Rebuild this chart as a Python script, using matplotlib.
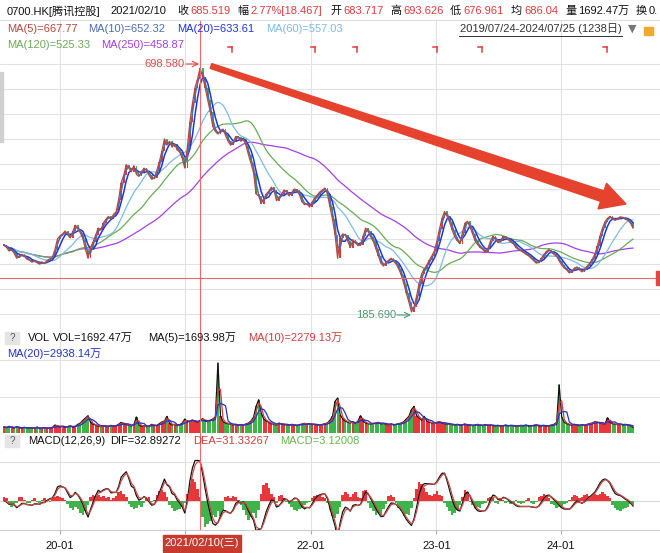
import numpy as np
import pandas as pd
import matplotlib
matplotlib.use('Agg')
import matplotlib.pyplot as plt
from matplotlib.patches import Polygon, Rectangle
from matplotlib.lines import Line2D

plt.rcParams['font.family'] = ['Liberation Sans', 'Noto Sans CJK SC', 'DejaVu Sans']

W, H = 660, 553

# ---------------- data (weekly blocks of 5 trading days, 2019/07/24 - 2024/07/25) ----------------
close = [
    327, 322, 315, 318, 310, 300, 305, 308, 304, 298,
    296, 292, 295, 291, 288, 292, 290, 296, 299, 302,
    318, 340, 346, 350, 356, 348, 342, 355, 368, 360,
    352, 340, 318, 300, 322, 334, 348, 362, 358, 372,
    380, 386, 380, 390, 395, 420, 455, 470, 492, 485,
    478, 490, 472, 468, 478, 485, 480, 470, 462, 465,
    480, 498, 520, 545, 532, 540, 528, 535, 522, 518,
    505, 485, 528, 580, 618, 650, 668, 690, 672, 650,
    625, 600, 570, 560, 555, 562, 565, 552, 540, 532,
    538, 550, 548, 540, 545, 532, 512, 495, 475, 432,
    428, 412, 422, 432, 438, 446, 440, 418, 425, 432,
    440, 436, 428, 435, 442, 440, 430, 416, 410, 412,
    405, 415, 424, 430, 436, 440, 444, 432, 405, 380,
    348, 300, 342, 350, 348, 335, 322, 338, 332, 326,
    328, 345, 362, 355, 344, 335, 320, 305, 290, 284,
    292, 296, 300, 294, 288, 278, 266, 248, 228, 210,
    190, 200, 222, 248, 268, 278, 286, 296, 305, 315,
    335, 360, 382, 396, 386, 374, 358, 344, 336, 330,
    352, 372, 376, 364, 350, 336, 328, 322, 318, 312,
    320, 335, 345, 340, 332, 336, 345, 342, 338, 333,
    330, 322, 318, 315, 312, 308, 305, 300, 295, 290,
    292, 300, 308, 314, 318, 312, 308, 304, 295, 286,
    280, 276, 270, 274, 280, 282, 276, 272, 278, 284,
    290, 298, 308, 325, 345, 362, 375, 382, 386, 380,
    378, 382, 385, 383, 380, 378, 372, 362,
]
volume = [  # 万
    1800, 1600, 2000, 1700, 1500, 1900, 1600, 1400, 1700, 1500,
    1600, 1400, 1500, 1800, 1300, 1500, 1600, 1400, 1500, 1700,
    2400, 2100, 1800, 2000, 1700, 1900, 2200, 1800, 2000, 2600,
    3000, 3800, 4500, 5200, 3200, 2600, 2400, 2000, 1900, 2200,
    2100, 1900, 2300, 2000, 2200, 2600, 3200, 2800, 2500, 2300,
    2100, 2600, 4800, 2400, 2000, 2200, 1900, 2100, 2600, 2300,
    2200, 2800, 3300, 3600, 5000, 2900, 2400, 2600, 2200, 2500,
    3000, 4200, 3400, 3600, 3900, 3500, 3200, 3800, 4300, 3600,
    3400, 3800, 4200, 4800, 21000, 5200, 3400, 3000, 2800, 2600,
    2400, 2600, 2200, 2500, 2400, 2700, 3000, 3600, 4800, 8000,
    10000, 6000, 4200, 3600, 3200, 2800, 2600, 2400, 3000, 2700,
    2500, 2400, 2300, 2600, 2400, 2200, 2500, 2700, 2900, 2600,
    2800, 2500, 2600, 2400, 2300, 2600, 2800, 3000, 3800, 5000,
    9500, 10500, 5500, 4200, 3600, 3200, 3000, 3400, 2800, 3600,
    5200, 3600, 3000, 2800, 2600, 2900, 3000, 3200, 2700, 2900,
    2600, 2500, 2700, 2400, 2600, 2800, 3000, 3400, 4200, 5000,
    7000, 8000, 5200, 4600, 3800, 5000, 3600, 3200, 3000, 2800,
    3200, 3400, 3000, 2800, 2600, 2700, 2500, 2400, 2600, 2300,
    2500, 2700, 2400, 2300, 2200, 2400, 2600, 2300, 2200, 2500,
    2300, 2400, 2200, 2100, 2300, 2000, 2200, 2400, 2100, 2300,
    2200, 2000, 2100, 2300, 2200, 2400, 2000, 2100, 2300, 2500,
    2200, 2100, 2300, 2000, 2200, 2400, 2600, 3200, 14500, 4800,
    3200, 2800, 2500, 2300, 2600, 2400, 2200, 2500, 2300, 2600,
    2800, 3000, 3400, 3200, 3000, 2800, 2700, 4600, 3200, 2800,
    2600, 2500, 2700, 2400, 2600, 2300, 2200, 1700,
]
macd_hist = [
    3, 2, -3, -5, -4, -2, 3, 3, 1, -2,
    -2, 1, 2, -1, -2, 1, 2, 1, -1, 2,
    3, 4, 3, 2, 1, -3, -6, -8, -5, -7,
    -10, -12, -9, -4, 3, 5, 4, 5, 3, 4,
    2, 3, 1, 2, 4, 7, 8, 6, 3, -3,
    -5, -7, -6, -4, -5, -2, 2, 3, -1, 1,
    5, 8, 9, 7, 3, -4, -6, -9, -8, -7,
    -5, -2, 6, 12, 18, 16, 10, 3, -14, -22,
    -20, -17, -12, -14, -9, -13, -8, 3, 4, 2,
    4, 3, 1, -4, -8, -12, -16, -14, -10, -15,
    -8, 6, 13, 15, 11, 6, 3, -2, 4, 5,
    2, -1, -3, -5, -8, -9, -7, -6, -4, -2,
    -1, 2, 4, 5, 4, 3, 2, -2, -8, -13,
    -15, -11, -5, 5, 7, 6, 3, 6, 7, 3,
    2, 8, 9, -2, -6, -9, -12, -10, -11, -7,
    -3, 4, 5, 3, -2, -6, -9, -13, -11, -12,
    -6, 2, 10, 16, 14, 11, 7, 5, 4, 6,
    8, 5, 4, -2, -5, -9, -12, -10, -8, -4,
    3, 9, 7, -1, -4, -6, -5, -6, -3, -2,
    2, 3, 2, -2, -3, 2, 1, -2, -1, -3,
    -2, 1, -2, -3, -2, 1, 2, -2, -3, -1,
    3, 4, 6, 5, 2, -3, -4, -6, -5, -6,
    -3, -2, 1, 3, 5, 4, 2, 3, 5, 6,
    4, 5, 6, 5, 6, 7, 6, 4, 2, -4,
    -6, -8, -9, -7, -6, -5, -3, -4,
]
tick_days = [112, 358, 605, 851, 1095]
tick_labels = ['20-01', '', '22-01', '23-01', '24-01']   # 21-01 is covered by the date box
cross_day = 387
hline_price = 259.5
high_price, low_price = 698.58, 185.69
ma_days = [5, 10, 20, 60, 120, 250]
ma_colors = ['#b8473d', '#4b6db2', '#1f36d6', '#7dbbe3', '#6aab55', '#a53fe3']

n = len(close)
days = np.arange(n) * 5 + 2
c = pd.Series(close, dtype=float)
v = pd.Series(volume, dtype=float)
hist = np.array(macd_hist[:n], dtype=float)
prev = c.shift(1).fillna(c.iloc[0])
up = (c >= prev).values
RED, GREEN = '#e8363b', '#3fb44a'

# ---------------- figure layout helpers ----------------
fig = plt.figure(figsize=(W / 100, H / 100), dpi=100)
px0, pscale = 3.0, 0.5093
XL = (-px0 / pscale, (W - px0) / pscale)


def add_ax(top, bottom):
    ax = fig.add_axes([0, 1 - bottom / H, 1, (bottom - top) / H])
    ax.set_xlim(*XL)
    for s in ax.spines.values():
        s.set_visible(False)
    ax.set_xticks([])
    ax.set_yticks([])
    ax.patch.set_alpha(0)
    return ax


def ftext(x, y, s, color='#111111', size=8, ha='left', **kw):
    fig.text(x / W, 1 - y / H, s, color=color, fontsize=size, ha=ha, va='center', **kw)


def fline(x0, y0, x1, y1, color, lw=0.8):
    fig.add_artist(Line2D([x0 / W, x1 / W], [1 - y0 / H, 1 - y1 / H], color=color, lw=lw,
                          transform=fig.transFigure))


GRID = '#e2e2e2'

# ---------------- main price panel ----------------
ppx = (high_price - low_price) / (314 - 64)
ax = add_ax(20, 328)
ax.set_ylim(high_price - (328 - 64) * ppx, high_price + (64 - 20) * ppx)
for g in np.linspace(low_price, high_price, 11):
    ax.axhline(g, color=GRID, lw=0.8, zorder=0)
for d in tick_days:
    ax.axvline(d, color=GRID, lw=0.8, zorder=0)

bottoms = np.minimum(c.values, prev.values)
heights = np.maximum(np.abs(c.values - prev.values), 1.5)
ax.bar(days, heights, bottom=bottoms, width=3.4,
       color=[RED if u else GREEN for u in up], zorder=2, linewidth=0)
for nd, col in zip(ma_days[::-1], ma_colors[::-1]):
    w = max(1, round(nd / 5))
    ma = c.rolling(w, min_periods=1).mean()
    lw = 1.1 if nd in (10, 20) else 0.9
    ax.plot(days, ma, color=col, lw=lw, zorder=3)

ax.axhline(hline_price, color='#ee6a6a', lw=0.8, zorder=4)
ax.axvline(cross_day, color='#ee6a6a', lw=0.8, zorder=4)

# ---------------- volume panel ----------------
vpp = 300.0
axv = add_ax(328, 433)
axv.set_ylim(0, (433 - 328) * vpp)
for yy in (360, 397):
    axv.axhline((433 - yy) * vpp, color=GRID, lw=0.8, zorder=0)
for d in tick_days:
    axv.axvline(d, color=GRID, lw=0.8, zorder=0)
axv.bar(days, v.values, width=4.2, color=[RED if u else GREEN for u in up], linewidth=0, zorder=2)
axv.plot(days, v.rolling(1).mean(), color='#111111', lw=0.9, zorder=3)
axv.plot(days, v.rolling(2, min_periods=1).mean(), color='#d23c3c', lw=0.9, zorder=3)
axv.plot(days, v.rolling(4, min_periods=1).mean(), color='#2233cc', lw=0.9, zorder=3)
axv.axvline(cross_day, color='#ee6a6a', lw=0.8, zorder=4)

# ---------------- MACD panel ----------------
a12 = 1 - (11 / 13) ** 5
a26 = 1 - (25 / 27) ** 5
a9 = 1 - (8 / 10) ** 5
dif = c.ewm(alpha=a12, adjust=False).mean() - c.ewm(alpha=a26, adjust=False).mean()
dea = dif.ewm(alpha=a9, adjust=False).mean()

mpp = 0.843
zero_y = 500.7
axm = add_ax(433, 530)
axm.set_ylim(-(530 - zero_y) * mpp, (zero_y - 433) * mpp)
axm.axhline(0, color='#d8d8d8', lw=0.8, zorder=0)
axm.axhline((zero_y - 462) * mpp, color=GRID, lw=0.8, zorder=0)
for d in tick_days:
    axm.axvline(d, color=GRID, lw=0.8, zorder=0)
axm.bar(days, hist, width=5.0, color=[RED if h >= 0 else GREEN for h in hist],
        linewidth=0, zorder=2)
axm.plot(days, dif, color='#111111', lw=0.9, zorder=3)
axm.plot(days, dea, color='#c24a44', lw=0.9, zorder=3)
axm.axvline(cross_day, color='#ee6a6a', lw=0.8, zorder=4)
axm.spines['bottom'].set_visible(True)
axm.spines['bottom'].set_color('#cccccc')
axm.set_xticks(tick_days)
axm.set_xticklabels(tick_labels, fontsize=8, color='#111111')
axm.tick_params(axis='x', length=3, color='#aaaaaa', pad=5)

# ---------------- header / legends ----------------
fline(0, 20, W, 20, '#dddddd')
RT = '#e03b3b'
ftext(7, 11, '0700.HK[腾讯控股]')
ftext(110, 11, '2021/02/10')
ftext(177, 11, '收')
ftext(190, 11, '685.519', RT)
ftext(237, 11, '幅')
ftext(250, 11, '2.77%[18.467]', RT)
ftext(330, 11, '开')
ftext(343, 11, '683.717', RT)
ftext(390, 11, '高')
ftext(403, 11, '693.626', RT)
ftext(450, 11, '低')
ftext(463, 11, '676.961', RT)
ftext(511, 11, '均')
ftext(524, 11, '686.04', RT)
ftext(565, 11, '量')
ftext(578, 11, '1692.47万')
ftext(636, 11, '换')
ftext(649, 11, '0.')

ftext(7, 29, 'MA(5)=667.77', ma_colors[0])
ftext(88, 29, 'MA(10)=652.32', ma_colors[1])
ftext(177, 29, 'MA(20)=633.61', ma_colors[2])
ftext(266, 29, 'MA(60)=557.03', ma_colors[3])
ftext(7, 45, 'MA(120)=525.33', ma_colors[4])
ftext(101, 45, 'MA(250)=458.87', ma_colors[5])
fig.text(622 / W, 1 - 29 / H, '2019/07/24-2024/07/25 (1238日)', color='#333333', fontsize=8,
         ha='right', va='center')
fline(459, 36, 622, 36, '#333333', 0.7)
ftext(632, 29, '▼', '#777777', 8, ha='center', family=['DejaVu Sans'])
fig.add_artist(Rectangle((644 / W, 1 - 35 / H), 9 / W, 8 / H, transform=fig.transFigure,
                         color='#f0a830'))

for mx in (232, 315, 357, 437, 482, 607):
    fline(mx - 4, 47, mx, 47, '#e03b3b', 1.1)
    fline(mx, 47, mx, 52, '#e03b3b', 1.1)

# peak / trough labels
ftext(185, 64, '698.580', '#e04848', 8, ha='right')
ax.annotate('', xy=(199, H - 64), xytext=(186, H - 64), xycoords='figure pixels',
            textcoords='figure pixels',
            arrowprops=dict(arrowstyle='->', color='#e04848', lw=0.8, shrinkA=0, shrinkB=0))
ftext(396, 315, '185.690', '#4a9a70', 8, ha='right')
ax.annotate('', xy=(411, H - 315), xytext=(397, H - 315), xycoords='figure pixels',
            textcoords='figure pixels',
            arrowprops=dict(arrowstyle='->', color='#4a9a70', lw=0.8, shrinkA=0, shrinkB=0))

# right-edge marker & scrollbar
fig.add_artist(Rectangle((656 / W, 1 - 285 / H), 4 / W, 14 / H, transform=fig.transFigure,
                         color='#e04848'))
fig.add_artist(Rectangle((0, 1 - 142 / H), 3 / W, 70 / H, transform=fig.transFigure,
                         color='#d0d0d0'))

# big red arrow
sx, sy = 211.0, 66.0
tx, ty = 626.0, 204.0
dvec = np.array([tx - sx, ty - sy])
L = np.linalg.norm(dvec)
dvec /= L
nvec = np.array([-dvec[1], dvec[0]])
head_len, head_w = 25.0, 13.5
base = np.array([tx, ty]) - head_len * dvec
s = np.array([sx, sy])
w0, w1 = 2.5, 5.5
pts = [s + w0 * nvec, base + w1 * nvec, base + head_w * nvec, np.array([tx, ty]),
       base - head_w * nvec, base - w1 * nvec, s - w0 * nvec]
pts = [(p[0] / W, 1 - p[1] / H) for p in pts]
fig.add_artist(Polygon(pts, closed=True, transform=fig.transFigure, color='#e5432d', zorder=10))


# VOL / MACD headers
def qbox(y):
    fig.add_artist(Rectangle((5 / W, 1 - (y + 6) / H), 14 / W, 12 / H, transform=fig.transFigure,
                             color='#e4e4e4'))
    ftext(12, y, '?', '#555555', 7, ha='center')


qbox(338)
ftext(28, 338, 'VOL')
ftext(53, 338, 'VOL=1692.47万')
ftext(148, 338, 'MA(5)=1693.98万')
ftext(248, 338, 'MA(10)=2279.13万', '#d23c3c')
ftext(7, 354, 'MA(20)=2938.14万', '#2233cc')

qbox(441)
ftext(28, 441, 'MACD(12,26,9)')
ftext(110, 441, 'DIF=32.89272')
ftext(193, 441, 'DEA=31.33267', '#d23c3c')
ftext(280, 441, 'MACD=3.12008', '#66b54f')

# date box on the x axis
fig.add_artist(Rectangle((163 / W, 1 - 552 / H), 78 / W, 17 / H, transform=fig.transFigure,
                         color='#c93a2e', zorder=20))
fig.text(202 / W, 1 - 543.5 / H, '2021/02/10(三)', color='white', fontsize=8, ha='center',
         va='center', zorder=21)

fig.savefig('out.png', dpi=100, facecolor='white')
